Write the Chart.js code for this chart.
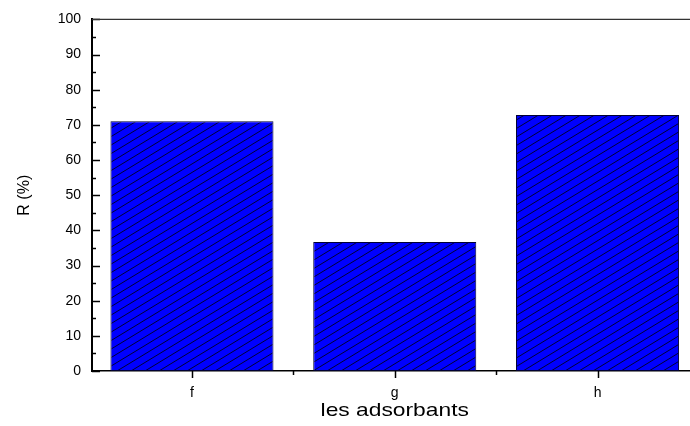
<!DOCTYPE html>
<html>
<head>
<meta charset="utf-8">
<script src="https://cdn.jsdelivr.net/npm/chart.js@4/dist/chart.umd.min.js"></script>
<style>
  html, body { margin: 0; padding: 0; background: #fff; }
  #wrap { width: 690px; height: 426px; position: relative; }
</style>
</head>
<body>
<div id="wrap"><canvas id="c" width="690" height="426"></canvas></div>
<script>
// Removal efficiency per adsorbent
const categories = ['f', 'g', 'h'];
const removal = [71.0, 36.7, 72.8];
const yTicks = [0, 10, 20, 30, 40, 50, 60, 70, 80, 90, 100];
const xTitle = 'les adsorbants';
const yTitle = 'R (%)';

const FONT = "'Liberation Sans', Arial, sans-serif";

// Blue fill with thin black diagonal hatching (period 14 px across, 8.5 px down)
function hatchPattern() {
  const w = 28, h = 17;
  const t = document.createElement('canvas');
  t.width = w; t.height = h;
  const g = t.getContext('2d');
  g.fillStyle = '#0000ff';
  g.fillRect(0, 0, w, h);
  g.strokeStyle = '#000';
  g.lineWidth = 0.8;
  const slope = h / w;
  for (let k = -2; k <= 2; k++) {
    const x0 = k * (w / 2);
    g.beginPath();
    g.moveTo(x0 - 2, h + 2 * slope);
    g.lineTo(x0 + w + 2, -2 * slope);
    g.stroke();
  }
  return g.createPattern(t, 'repeat');
}

// Axis furniture: inward y ticks, outward x ticks, top frame line, stretched x title
const frame = {
  id: 'frame',
  afterDraw(chart) {
    const { ctx, chartArea: a, scales: { x, y } } = chart;
    ctx.save();
    ctx.strokeStyle = '#000';
    ctx.lineWidth = 1.5;
    // y ticks (major every 10, minor every 5), pointing into the plot
    for (let v = 0; v <= 100; v += 5) {
      const py = Math.round(y.getPixelForValue(v)) + 0.5;
      const len = v % 10 === 0 ? 8 : 4;
      ctx.beginPath();
      ctx.moveTo(a.left, py);
      ctx.lineTo(a.left + len, py);
      ctx.stroke();
    }
    // x ticks at each category, minor halfway between, pointing down
    const xs = [];
    categories.forEach((_, i) => xs.push([i + 1, 7]));
    for (let i = 1; i < categories.length; i++) xs.push([i + 0.5, 4]);
    xs.forEach(([v, len]) => {
      const px = Math.round(x.getPixelForValue(v)) + 0.5;
      ctx.beginPath();
      ctx.moveTo(px, a.bottom);
      ctx.lineTo(px, a.bottom + len);
      ctx.stroke();
    });
    // top frame line
    ctx.strokeStyle = '#333';
    ctx.lineWidth = 1.2;
    ctx.beginPath();
    ctx.moveTo(a.left, a.top);
    ctx.lineTo(chart.width, a.top);
    ctx.stroke();
    // x axis title
    const cx = x.getPixelForValue(2);
    ctx.fillStyle = '#000';
    ctx.font = '19px ' + FONT;
    ctx.textAlign = 'center';
    ctx.textBaseline = 'middle';
    ctx.translate(cx, 411);
    ctx.scale(1.2, 1);
    ctx.fillText(xTitle, 0, 0);
    ctx.restore();
  }
};

new Chart(document.getElementById('c'), {
  type: 'bar',
  data: {
    datasets: [{
      data: removal.map((v, i) => ({ x: i + 1, y: v })),
      backgroundColor: hatchPattern(),
      borderColor: '#000033',
      borderWidth: 1,
      borderSkipped: false,
      categoryPercentage: 1,
      barPercentage: 0.804
    }]
  },
  options: {
    responsive: false,
    animation: false,
    devicePixelRatio: 1,
    layout: { padding: { top: 16, right: 0, left: 0, bottom: 0 } },
    plugins: { legend: { display: false }, tooltip: { enabled: false } },
    scales: {
      x: {
        type: 'linear',
        offset: false,
        min: 0.507,
        max: 3.456,
        afterBuildTicks(s) { s.ticks = categories.map((_, i) => ({ value: i + 1 })); },
        afterFit(s) { s.height = 55; },
        grid: { display: false, drawTicks: false, offset: false },
        border: { display: true, color: '#000', width: 1.5 },
        ticks: {
          padding: 14,
          color: '#000',
          font: { family: FONT, size: 14 },
          maxRotation: 0,
          callback: (v) => categories[Math.round(v) - 1] || ''
        }
      },
      y: {
        min: 0,
        max: 100,
        afterBuildTicks(s) { s.ticks = yTicks.map(v => ({ value: v })); },
        afterFit(s) { s.width = 92; },
        grid: { display: false, drawTicks: false },
        border: { display: true, color: '#000', width: 2 },
        ticks: {
          padding: 11,
          color: '#000',
          font: { family: FONT, size: 14 }
        },
        title: {
          display: true,
          text: yTitle,
          color: '#000',
          font: { family: FONT, size: 16 },
          padding: { top: 15, bottom: 0 }
        }
      }
    }
  },
  plugins: [frame]
});
</script>
</body>
</html>
